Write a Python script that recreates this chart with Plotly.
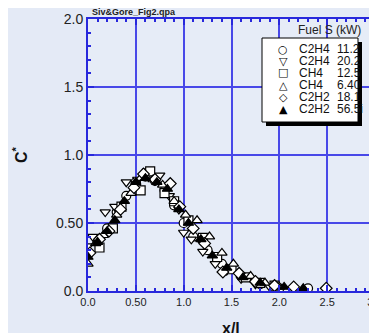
import plotly.graph_objects as go

# ---- data ----
series_names = ["C2H4  11.2", "C2H4  20.2", "CH4    12.5", "CH4    6.40", "C2H2  18.1", "C2H2   56.5"]
legend_fuels = ["C2H4", "C2H4", "CH4", "CH4", "C2H2", "C2H2"]
legend_values = ["11.2", "20.2", "12.5", "6.40", "18.1", "56.5i"]
legend_glyphs = ["○", "▽", "□", "△", "◇", "▲"]

x_c2h4_112 = [0.0, 0.1, 0.2, 0.3, 0.4, 0.5, 0.6, 0.7, 0.8, 0.9, 1.0, 1.1, 1.25, 1.4, 1.6, 1.8, 2.0, 2.15, 2.3]
y_c2h4_112 = [0.27, 0.37, 0.46, 0.58, 0.70, 0.80, 0.84, 0.81, 0.74, 0.63, 0.50, 0.40, 0.30, 0.20, 0.11, 0.05, 0.02, 0.02, 0.02]

x_c2h4_202 = [0.0, 0.05, 0.18, 0.28, 0.4, 0.52, 0.62, 0.75, 0.85, 0.95, 1.0, 1.08, 1.2, 1.33, 1.45, 1.6, 1.75, 1.9]
y_c2h4_202 = [0.33, 0.40, 0.58, 0.62, 0.80, 0.82, 0.88, 0.85, 0.70, 0.60, 0.43, 0.38, 0.29, 0.20, 0.15, 0.09, 0.05, 0.03]

x_ch4_125 = [0.12, 0.26, 0.35, 0.5, 0.55, 0.65, 0.8, 0.9, 1.05, 1.2, 1.35, 1.5, 1.65, 1.8, 1.95]
y_ch4_125 = [0.32, 0.46, 0.62, 0.77, 0.74, 0.88, 0.72, 0.66, 0.52, 0.39, 0.25, 0.16, 0.10, 0.06, 0.04]

x_ch4_640 = [0.0, 0.08, 0.16, 0.3, 0.45, 0.55, 0.68, 0.78, 0.9, 1.02, 1.14, 1.27, 1.4, 1.52, 1.7, 1.85, 2.0]
y_ch4_640 = [0.20, 0.35, 0.41, 0.56, 0.72, 0.83, 0.82, 0.78, 0.66, 0.56, 0.52, 0.40, 0.28, 0.20, 0.11, 0.06, 0.03]

x_c2h2_181 = [0.02, 0.12, 0.22, 0.34, 0.48, 0.58, 0.7, 0.86, 0.96, 1.1, 1.22, 1.41, 1.58, 1.75, 1.95, 2.15, 2.49]
y_c2h2_181 = [0.28, 0.38, 0.44, 0.60, 0.76, 0.86, 0.82, 0.79, 0.62, 0.46, 0.35, 0.14, 0.13, 0.07, 0.04, 0.03, 0.02]

x_c2h2_565 = [0.0, 0.1, 0.2, 0.28, 0.38, 0.5, 0.6, 0.72, 0.83, 0.95, 1.05, 1.18, 1.3, 1.45, 1.62, 1.8, 2.05, 2.25]
y_c2h2_565 = [0.25, 0.36, 0.44, 0.52, 0.66, 0.80, 0.83, 0.80, 0.75, 0.60, 0.50, 0.38, 0.26, 0.17, 0.10, 0.06, 0.03, 0.02]

xs = [x_c2h4_112, x_c2h4_202, x_ch4_125, x_ch4_640, x_c2h2_181, x_c2h2_565]
ys = [y_c2h4_112, y_c2h4_202, y_ch4_125, y_ch4_640, y_c2h2_181, y_c2h2_565]
symbols = ["circle", "triangle-down", "square", "triangle-up", "diamond", "triangle-up"]
fills = ["white", "white", "white", "white", "white", "black"]

x_tickvals = [0, 0.5, 1.0, 1.5, 2.0, 2.5, 3.0]
x_ticktext = ["0.0", "0.50", "1.0", "1.5", "2.0", "2.5", "3.0"]
y_tickvals = [0, 0.5, 1.0, 1.5, 2.0]
y_ticktext = ["0.0", "0.50", "1.0", "1.5", "2.0"]

# ---- layout geometry (page has an 8px body offset) ----
OFF = 8
W, H = 377, 333
L, T = 88 - OFF, 19 - OFF
PW, PH = 375 - 88, 291 - 19
R = W - L - PW
B = H - T - PH


def px(xp):
    return (xp - OFF - L) / PW


def py(yp):
    return (T + PH - (yp - OFF)) / PH


BLUE_GRID = "rgb(72,72,232)"
BLUE_AXIS = "rgb(40,40,220)"

fig = go.Figure()
for name, x, y, sym, fc in zip(series_names, xs, ys, symbols, fills):
    fig.add_trace(go.Scatter(
        x=x, y=y, mode="markers", name=name, showlegend=False,
        marker=dict(symbol=sym, size=9, color=fc, line=dict(color="black", width=1.2)),
    ))

axis_common = dict(
    showline=True, linecolor=BLUE_AXIS, linewidth=2, mirror="ticks",
    ticks="inside", ticklen=6, tickwidth=1.5, tickcolor=BLUE_AXIS,
    showgrid=True, gridcolor=BLUE_GRID, gridwidth=1.5,
    zeroline=False, automargin=False,
)

fig.update_xaxes(
    range=[0, 3.0], tickvals=x_tickvals, ticktext=x_ticktext,
    tickfont=dict(family="Liberation Sans, Arial", size=11, color="#222"),
    minor=dict(dtick=0.1, ticks="inside", ticklen=3, tickcolor=BLUE_AXIS, showgrid=False),
    **axis_common,
)
fig.update_yaxes(
    range=[0, 2.0], tickvals=y_tickvals, ticktext=y_ticktext,
    tickfont=dict(family="Liberation Sans, Arial", size=14, color="#222"),
    minor=dict(dtick=0.1, ticks="inside", ticklen=3, tickcolor=BLUE_AXIS, showgrid=False),
    **axis_common,
)

# legend box with shadow
shapes = [
    dict(type="rect", xref="paper", yref="paper", x0=px(266), x1=px(362), y0=py(126), y1=py(42),
         fillcolor="black", line=dict(width=0), layer="above"),
    dict(type="rect", xref="paper", yref="paper", x0=px(262), x1=px(358), y0=py(122), y1=py(38),
         fillcolor="white", line=dict(color="black", width=1), layer="above"),
]

font_family = "Liberation Sans, Arial, sans-serif"
annotations = [
    dict(text="<b>Siv&Gore_Fig2.qpa</b>", xref="paper", yref="paper", x=px(90), y=py(12),
         xanchor="left", yanchor="middle", showarrow=False,
         font=dict(family=font_family, size=9, color="#222")),
    dict(text="Fuel S (kW)", xref="paper", yref="paper", x=px(329), y=py(30),
         xanchor="center", yanchor="middle", showarrow=False,
         font=dict(family=font_family, size=12, color="#222")),
    dict(text="<b>C<sup>*</sup></b>", xref="paper", yref="paper", x=px(20), y=py(155),
         xanchor="center", yanchor="middle", showarrow=False, textangle=-90,
         font=dict(family=font_family, size=16, color="#111")),
    dict(text="<b>x/l</b>", xref="paper", yref="paper", x=px(231), y=py(328),
         xanchor="center", yanchor="middle", showarrow=False,
         font=dict(family=font_family, size=16, color="#111")),
]

row_y0, row_dy = 49, 12
for i, (g, f, v) in enumerate(zip(legend_glyphs, legend_fuels, legend_values)):
    yc = py(row_y0 + i * row_dy)
    annotations.append(dict(text=g, xref="paper", yref="paper", x=px(283), y=yc,
                            xanchor="center", yanchor="middle", showarrow=False,
                            font=dict(family="DejaVu Sans", size=11, color="black")))
    annotations.append(dict(text=f, xref="paper", yref="paper", x=px(297), y=yc,
                            xanchor="left", yanchor="middle", showarrow=False,
                            font=dict(family=font_family, size=12, color="#111")))
    ann = dict(text=v, xref="paper", yref="paper", x=px(335), y=yc,
               xanchor="left", yanchor="middle", showarrow=False, align="left",
               font=dict(family=font_family, size=12, color="#111"))
    if i < len(legend_values) - 1:
        ann["width"] = 358 - 335
    annotations.append(ann)

fig.update_layout(
    width=W, height=H, margin=dict(l=L, r=R, t=T, b=B),
    paper_bgcolor="#e4eaf6", plot_bgcolor="#e6ecf7",
    showlegend=False, shapes=shapes, annotations=annotations,
)

fig.write_html("out.html")
